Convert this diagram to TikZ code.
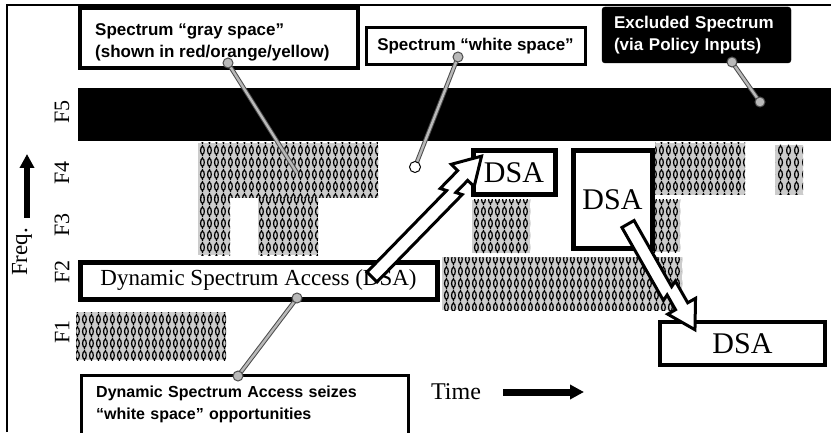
\documentclass[tikz,border=0pt]{standalone}
\usepackage{fontspec}
\setmainfont{Liberation Serif}
\newfontfamily\arialfont{Liberation Sans}
\usetikzlibrary{patterns,arrows.meta,calc}

\pgfdeclarepatternformonly{chainpat}{\pgfqpoint{0pt}{0pt}}{\pgfqpoint{7.4pt}{12pt}}{\pgfqpoint{7.4pt}{12pt}}{%
  \pgfsetlinewidth{1.3pt}%
  \pgfpathellipse{\pgfqpoint{3.7pt}{6pt}}{\pgfqpoint{2pt}{0pt}}{\pgfqpoint{0pt}{4.2pt}}%
  \pgfusepath{stroke}%
  \pgfpathmoveto{\pgfqpoint{3.7pt}{0pt}}\pgfpathlineto{\pgfqpoint{3.7pt}{1.8pt}}%
  \pgfpathmoveto{\pgfqpoint{3.7pt}{10.2pt}}\pgfpathlineto{\pgfqpoint{3.7pt}{12pt}}%
  \pgfusepath{stroke}%
}

\tikzset{
  specblock/.style={fill=gray!40, postaction={pattern=chainpat, pattern color=black}},
  sansfont/.style={font=\arialfont\bfseries\fontsize{17}{22}\selectfont},
  sansbox/.style={draw, fill=white, sansfont, inner sep=0pt},
  dsabox/.style={draw, fill=white, line width=5pt, font=\fontsize{30}{30}\selectfont, inner sep=0pt},
  flabel/.style={rotate=90, font=\fontsize{22}{22}\selectfont},
  callout/.style={draw=black!70, line width=1pt, double=gray!55, double distance=2.4pt},
  dot/.style={fill=gray!55, draw=black!70, line width=1pt},
  arrowbody/.style={fill=white, draw=black, line width=3pt, line join=miter},
  thickarrow/.style={line width=6pt, -{Triangle[length=14pt,width=14pt]}}
}

\newcommand\hollowarrow[3]{%
  \pgfmathsetmacro\La{#3-27-22}%
  \pgfmathsetmacro\Lh{#3-27}%
  \draw[arrowbody, shift={#1}, rotate=#2]
    (0,-7) -- (\La+8,-7) -- (\La+5,-1) -- (\Lh,-1) -- (\Lh,-10) -- (#3,6)
    -- (\Lh,22) -- (\Lh,13) -- (\La-3,13) -- (\La,7) -- (0,7) -- cycle;
}

\begin{document}
\begin{tikzpicture}[x=1pt,y=1pt]
\clip (0,0) rectangle (831,432);
\fill[white] (0,0) rectangle (831,432);

% frame
\draw[line width=1.2pt] (7,0) -- (7,427) -- (831,427);

% occupied spectrum blocks
\path[specblock] (198,234) rectangle (378,289);
\path[specblock] (198,177) rectangle (230,234);
\path[specblock] (258,177) rectangle (318,234);
\path[specblock] (472,179) rectangle (530,232);
\path[specblock] (442,122) rectangle (682,175);
\path[specblock] (76,72) rectangle (226,120);
\path[specblock] (655,237) rectangle (745,289);
\path[specblock] (775,237) rectangle (803,287);
\path[specblock] (653,180) rectangle (680,232);

% excluded band F5
\fill[black] (78,291) rectangle (831,344);

% axis labels
\node[flabel] (f5) at (62,320) {F5};
\node[flabel] (f4) at (62,259) {F4};
\node[flabel] (f3) at (62,207) {F3};
\node[flabel] (f2) at (62,160) {F2};
\node[flabel] (f1) at (62,100) {F1};
\node[flabel, font=\fontsize{23}{23}\selectfont] (freq) at (22,180) {Freq.};
\coordinate (upA) at (27,214);
\coordinate (upB) at (27,278);
\draw[thickarrow] (upA) -- (upB);

\node[font=\fontsize{24}{24}\selectfont] (time) at (456,40) {Time};
\coordinate (tA) at (503,40);
\coordinate (tB) at (584,40);
\draw[thickarrow, line width=7pt] (tA) -- (tB);

% callout boxes
\node[sansbox, line width=3.5pt, minimum width=278, minimum height=60] (gray) at (219,394) {};
\node[sansfont, anchor=west, align=left, inner sep=0pt] (graytext) at (95,390)
  {Spectrum “gray space”\\(shown in red/orange/yellow)};
\node[sansbox, line width=3pt, minimum width=219, minimum height=37, align=center]
  (white) at (475.5,385.5) {Spectrum “white space”};
\node[sansbox, fill=black, text=white, rounded corners=3pt, minimum width=189, minimum height=56, text width=165, align=left]
  (excl) at (696.5,397) {Excluded Spectrum\\(via Policy Inputs)};
\node[draw, line width=3pt, fill=white, anchor=north west, minimum width=327, minimum height=80, inner sep=0pt]
  (seizebox) at (80,58) {};
\node[anchor=north west, font=\arialfont\bfseries\fontsize{16}{22}\selectfont, text width=300, align=left, inner sep=0pt]
  (seize) at (96,46) {Dynamic Spectrum Access seizes\\“white space” opportunities};

% DSA boxes
\node[dsabox, minimum width=357, minimum height=37, font=\fontsize{23}{23}\selectfont]
  (dsalong) at (258.5,151.5) {Dynamic Spectrum Access (DSA)};
\node[dsabox, minimum width=82, minimum height=44] (dsa1) at (514,259) {DSA};
\node[dsabox, minimum width=79, minimum height=97] (dsa2) at (612.5,232.5) {DSA};
\node[dsabox, line width=4pt, minimum width=165, minimum height=43] (dsa3) at (742.5,88.5) {DSA};

% callout connectors
\coordinate (gA) at (228,369);
\coordinate (gB) at (297,259);
\draw[callout] (gA) -- (gB);
\fill[dot] (gA) circle (5);

\coordinate (wA) at (458,375);
\coordinate (wB) at (415,265);
\draw[callout] (wA) -- (wB);
\fill[dot] (wA) circle (5);
\filldraw[fill=white, draw=black, line width=1pt] (wB) circle (5.5);

\coordinate (eA) at (732,370);
\coordinate (eB) at (760,330);
\draw[callout] (eA) -- (eB);
\fill[dot] (eA) circle (5);
\fill[dot] (eB) circle (5);

\coordinate (sA) at (297,134);
\coordinate (sB) at (238,56);
\draw[callout] (sA) -- (sB);
\fill[dot] (sA) circle (5);
\fill[dot] (sB) circle (5);

% hollow arrows
\hollowarrow{(372,155)}{45.7}{163}
\hollowarrow{(628,208)}{-60.4}{125}
\end{tikzpicture}
\end{document}
